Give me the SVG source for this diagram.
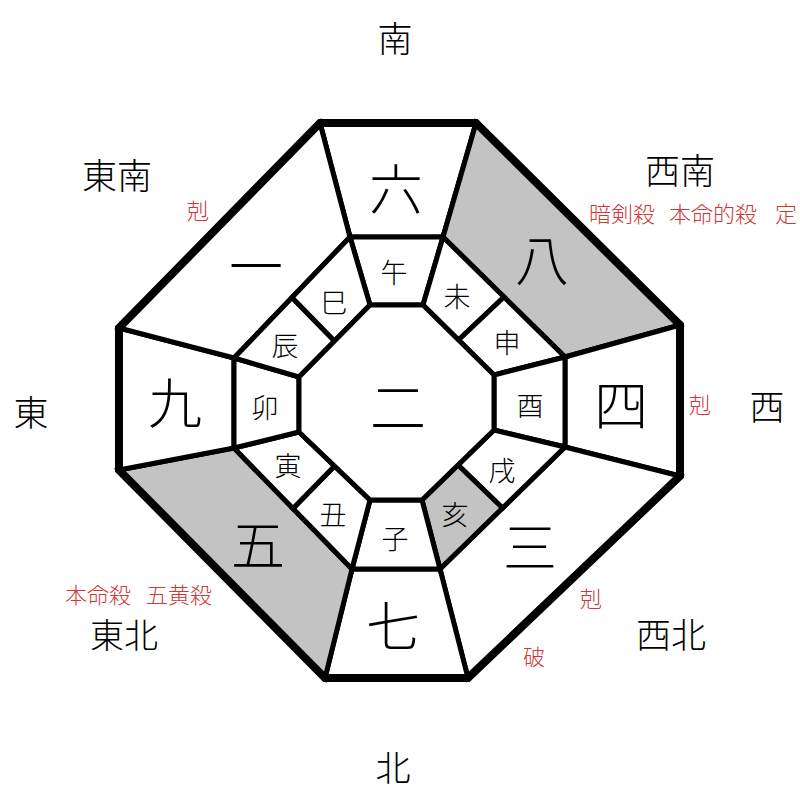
<svg xmlns="http://www.w3.org/2000/svg" width="800" height="800" viewBox="0 0 800 800">
<style>
  .cell { fill: #ffffff; stroke: #000000; stroke-width: 5; stroke-linejoin: miter; }
  .gray { fill: #c3c3c3; }
  .frame { fill: none; stroke: #000000; stroke-width: 8; stroke-linejoin: miter; }
  text { font-family: "Noto Sans CJK JP", "Noto Sans CJK SC", sans-serif; text-anchor: middle; dominant-baseline: central; fill: #000000; font-weight: 300; }
  .dir { font-size: 35px; }
  .big { font-size: 54px; }
  .mid { font-size: 27px; }
  .red { font-size: 22px; fill: #cf3636; }
  .redl { font-size: 22px; fill: #cf3636; text-anchor: start; }
</style>
<rect width="800" height="800" fill="#ffffff"/>

<!-- outer ring -->
<g id="n-roku"><polygon class="cell" points="320,123 476,123 443,237 350,237"/><text class="big" x="396" y="186">六</text></g>
<g id="n-hachi"><polygon class="cell gray" points="476,123 680,325 565,357 443,237"/><text class="big" x="542" y="257">八</text></g>
<g id="n-shi"><polygon class="cell" points="680,325 680,476 565,447 565,357"/><text class="big" x="621" y="402">四</text></g>
<g id="n-san"><polygon class="cell" points="680,476 468,678 440,569 565,447"/><text class="big" x="530" y="544">三</text></g>
<g id="n-shichi"><polygon class="cell" points="468,678 325,678 352,569 440,569"/><text class="big" x="393" y="623">七</text></g>
<g id="n-go"><polygon class="cell gray" points="325,678 119,470 234,448 352,569"/><text class="big" x="258" y="542">五</text></g>
<g id="n-kyu"><polygon class="cell" points="119,470 119,328 234,358 234,448"/><text class="big" x="175" y="400">九</text></g>
<g id="n-ichi"><polygon class="cell" points="119,328 320,123 350,237 234,358"/><text class="big" x="256" y="263">一</text></g>

<!-- middle ring -->
<g id="n-uma"><polygon class="cell" points="350,237 443,237 423,305 370,305"/><text class="mid" x="394" y="271">午</text></g>
<g id="n-hitsuji"><polygon class="cell" points="443,237 504,297 458.5,340 423,305"/><text class="mid" x="457" y="295">未</text></g>
<g id="n-saru"><polygon class="cell" points="504,297 565,357 494,375 458.5,340"/><text class="mid" x="507" y="341">申</text></g>
<g id="n-tori"><polygon class="cell" points="565,357 565,447 494,430 494,375"/><text class="mid" x="530" y="404">酉</text></g>
<g id="n-inu"><polygon class="cell" points="565,447 502.5,508 458,465 494,430"/><text class="mid" x="502" y="469">戌</text></g>
<g id="n-i"><polygon class="cell gray" points="502.5,508 440,569 422,500 458,465"/><text class="mid" x="455" y="513">亥</text></g>
<g id="n-ne"><polygon class="cell" points="440,569 352,569 370,500 422,500"/><text class="mid" x="395" y="537">子</text></g>
<g id="n-ushi"><polygon class="cell" points="352,569 293,508.5 334.5,466 370,500"/><text class="mid" x="333" y="513">丑</text></g>
<g id="n-tora"><polygon class="cell" points="293,508.5 234,448 299,432 334.5,466"/><text class="mid" x="288" y="464">寅</text></g>
<g id="n-u"><polygon class="cell" points="234,448 234,358 299,377 299,432"/><text class="mid" x="265" y="406">卯</text></g>
<g id="n-tatsu"><polygon class="cell" points="234,358 292,297.5 334.5,341 299,377"/><text class="mid" x="285" y="344">辰</text></g>
<g id="n-mi"><polygon class="cell" points="292,297.5 350,237 370,305 334.5,341"/><text class="mid" x="334" y="301">巳</text></g>

<!-- center -->
<g id="n-ni"><polygon class="cell" points="370,305 423,305 494,375 494,430 422,500 370,500 299,432 299,377"/><text x="398" y="403" style="font-size:56px">二</text></g>

<!-- outer frame -->
<g id="connectors"><polygon class="frame" points="320,123 476,123 680,325 680,476 468,678 325,678 119,470 119,328"/></g>

<!-- directions -->
<g id="d-south"><text class="dir" x="395" y="36">南</text></g>
<g id="d-southeast"><text class="dir" x="117" y="173">東南</text></g>
<g id="d-southwest"><text class="dir" x="680" y="168">西南</text></g>
<g id="d-east"><text class="dir" x="31" y="410">東</text></g>
<g id="d-west"><text class="dir" x="767" y="404">西</text></g>
<g id="d-northeast"><text class="dir" x="124" y="633" style="font-size:34px">東北</text></g>
<g id="d-northwest"><text class="dir" x="671" y="632">西北</text></g>
<g id="d-north"><text class="dir" x="393" y="765">北</text></g>

<!-- red notes -->
<g id="r-se"><text class="red" x="198" y="209">剋</text></g>
<g id="r-sw"><text class="redl" y="212"><tspan x="589">暗剣殺</tspan><tspan x="669">本命的殺</tspan><tspan x="775">定</tspan></text></g>
<g id="r-w"><text class="red" x="700" y="403">剋</text></g>
<g id="r-ne"><text class="redl" y="593"><tspan x="65">本命殺</tspan><tspan x="146">五黄殺</tspan></text></g>
<g id="r-nw1"><text class="red" x="591" y="597">剋</text></g>
<g id="r-nw2"><text class="red" x="534" y="655">破</text></g>
</svg>
